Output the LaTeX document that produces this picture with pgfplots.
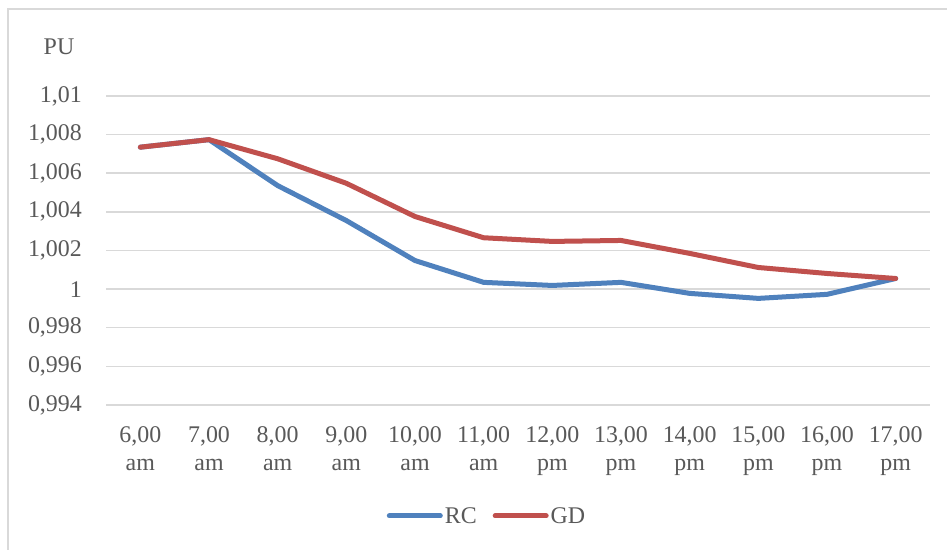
\documentclass[border=0pt]{standalone}
\usepackage{pgfplots}
\pgfplotsset{compat=1.18}
\usepackage{fontspec}
\setmainfont{Liberation Serif}
\definecolor{rcblue}{HTML}{4F81BD}
\definecolor{gdred}{HTML}{C0504D}
\definecolor{txt}{HTML}{595959}
\definecolor{gridc}{HTML}{D9D9D9}
\begin{document}
\begin{tikzpicture}
\useasboundingbox (0bp,0bp) rectangle (947bp,550bp);
\fill[white] (0bp,0bp) rectangle (947bp,550bp);
\draw[gridc, line width=1.5bp] (8bp,0bp) -- (8bp,541bp) -- (947bp,541bp);
\node[txt, font=\fontsize{24}{28}\selectfont, inner sep=0pt] at (59bp,503bp) {PU};
\begin{axis}[
  at={(106bp,145bp)}, anchor=south west, scale only axis,
  width=824bp, height=309bp,
  xmin=-0.5, xmax=11.5, ymin=0.994, ymax=1.01,
  axis line style={draw=none}, tick style={draw=none},
  major tick length=0pt,
  ymajorgrids, grid style={gridc, line width=1.5bp},
  xtick={0,1,2,3,4,5,6,7,8,9,10,11},
  xticklabels={{6,00\\am},{7,00\\am},{8,00\\am},{9,00\\am},{10,00\\am},{11,00\\am},{12,00\\pm},{13,00\\pm},{14,00\\pm},{15,00\\pm},{16,00\\pm},{17,00\\pm}},
  ytick={0.994,0.996,0.998,1,1.002,1.004,1.006,1.008,1.01},
  yticklabels={{0,994},{0,996},{0,998},{1},{1,002},{1,004},{1,006},{1,008},{1,01}},
  xticklabel style={txt, font=\fontsize{24}{29}\selectfont, align=center, inner sep=0pt, yshift=-21bp},
  yticklabel style={txt, font=\fontsize{24}{28}\selectfont, inner sep=0pt, xshift=-24bp},
  legend style={at={(0.4624,-0.359)}, anchor=center, draw=none, fill=none,
    legend columns=2, font=\fontsize{24}{28}\selectfont, text=txt,
    nodes={inner sep=2bp},
    /tikz/every even column/.append style={column sep=14bp}},
  legend image code/.code={\draw[#1, line width=5bp, line cap=round] (0bp,0bp) -- (51bp,0bp);},
  every axis plot/.append style={line width=5bp, line join=round, line cap=round, no markers},
]
\addplot[rcblue] coordinates {(0,1.00735) (1,1.00774) (2,1.00536) (3,1.00355) (4,1.00148) (5,1.00035) (6,1.00019) (7,1.00035) (8,0.99978) (9,0.99952) (10,0.99973) (11,1.00055)};
\addlegendentry{RC}
\addplot[gdred] coordinates {(0,1.00735) (1,1.00774) (2,1.00675) (3,1.00548) (4,1.00376) (5,1.00266) (6,1.00247) (7,1.00252) (8,1.00185) (9,1.00112) (10,1.00081) (11,1.00055)};
\addlegendentry{GD}
\end{axis}
\end{tikzpicture}
\end{document}
